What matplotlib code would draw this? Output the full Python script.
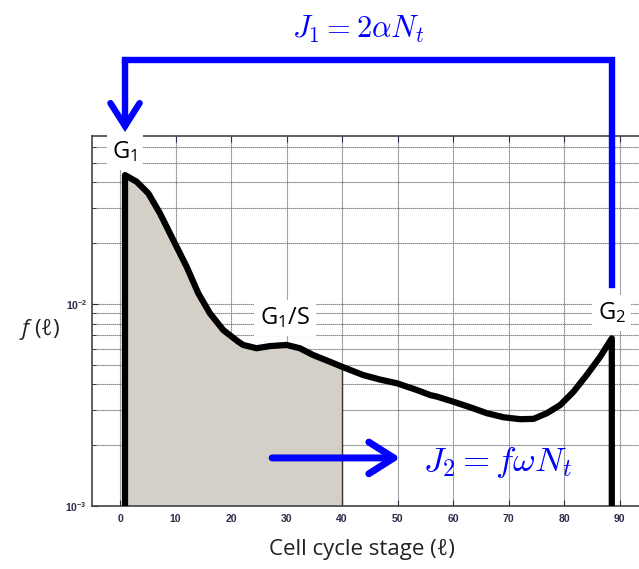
import matplotlib
matplotlib.use("Agg")
import matplotlib.pyplot as plt
import matplotlib.transforms as mtrans
import numpy as np
from matplotlib.ticker import LogLocator, NullFormatter, FixedLocator

plt.rcParams['mathtext.fontset'] = 'custom'
plt.rcParams['mathtext.rm'] = 'Open Sans'
plt.rcParams['mathtext.it'] = 'Open Sans:italic'
plt.rcParams['font.family'] = ['Open Sans', 'DejaVu Sans']

# ---- data ----
stage = [0.9, 3.0, 5.1, 7.2, 9.6, 12.0, 14.1, 16.2, 18.6, 21.3, 22.2, 24.6,
         27.0, 30.0, 32.4, 34.8, 37.8, 40.0, 43.8, 46.8, 49.9, 53.5, 55.9,
         57.1, 60.1, 63.1, 66.1, 69.1, 72.1, 74.5, 76.9, 79.3, 81.7, 84.1,
         86.5, 88.6]
density = [0.0435, 0.0403, 0.0353, 0.0281, 0.0207, 0.0153, 0.0113, 0.00899,
           0.00743, 0.00651, 0.00627, 0.00604, 0.00619, 0.00627, 0.00604,
           0.00559, 0.00518, 0.00489, 0.00445, 0.00423, 0.00405, 0.00375,
           0.00354, 0.00348, 0.00328, 0.00308, 0.00288, 0.00275, 0.00269,
           0.00270, 0.00288, 0.00316, 0.00368, 0.00446, 0.00548, 0.00676]
shade_end = 40.0
x_ticks = [0, 10, 20, 30, 40, 50, 60, 70, 80, 90]
y_min, y_max = 1e-3, 0.0679
x_min, x_max = -5.05, 93.5

fig = plt.figure(figsize=(6.39, 5.69), dpi=100)
ax = fig.add_axes([92/639, 63/569, 1 - 92/639, 370/569])
ax.set_yscale('log')
ax.set_xlim(x_min, x_max)
ax.set_ylim(y_min, y_max)

x = np.array(stage)
y = np.array(density)

# grid
ax.xaxis.set_major_locator(FixedLocator(x_ticks))
ax.yaxis.set_major_locator(LogLocator(base=10, numticks=10))
ax.yaxis.set_minor_locator(LogLocator(base=10, subs=np.arange(2, 10), numticks=20))
ax.yaxis.set_minor_formatter(NullFormatter())
gl = dict(color='#777777', linewidth=0.8, linestyle=(0, (1.2, 0.6)))
ax.grid(True, which='major', axis='x', **gl)
ax.grid(True, which='both', axis='y', **gl)
ax.set_axisbelow(True)

ax.tick_params(which='both', direction='in', top=True, right=False,
               labelsize=7.5, colors='#2b2b4b', length=4)
ax.tick_params(which='minor', length=3)
for lab in ax.get_xticklabels() + ax.get_yticklabels():
    lab.set_fontfamily('Liberation Sans')
    lab.set_fontweight('bold')
ax.tick_params(axis='x', pad=6)
for s in ['left', 'bottom', 'top']:
    ax.spines[s].set_color('#444444')
    ax.spines[s].set_linewidth(1.2)
ax.spines['right'].set_visible(False)

# shaded region
m = x <= shade_end
ax.fill_between(x[m], y_min, y[m], color='#d4d0c8', zorder=2, linewidth=0)
ax.plot([shade_end, shade_end], [y_min, y[m][-1]], color='#333333', lw=1, zorder=2)

# curve with vertical ends
xs = np.concatenate([[x[0]], x, [x[-1]]])
ys = np.concatenate([[y_min], y, [y_min]])
ax.plot(xs, ys, color='black', lw=4.5, zorder=4, solid_joinstyle='round',
        solid_capstyle='butt', clip_on=False)

# stage labels
box = dict(facecolor='white', edgecolor='none', pad=4)
ax.text(x[0], 0.0565, r'G$_1$', fontsize=17, ha='center', va='center', bbox=box, zorder=3)
ax.text(29.7, 0.00853, r'G$_1$/S', fontsize=17, ha='center', va='center', bbox=box, zorder=3)
ax.text(x[-1], 0.00903, r'G$_2$', fontsize=17, ha='center', va='center', bbox=box, zorder=3)

blue = '#0000ff'
# top feedback bracket J1
tr = mtrans.blended_transform_factory(ax.transData, mtrans.IdentityTransform())
ax.plot([x[-1], x[-1], x[0]], [284, 509, 509], color=blue, lw=4.6, transform=tr,
        clip_on=False, solid_capstyle='projecting', solid_joinstyle='miter', zorder=5)
ax.annotate('', xy=(x[0], 437), xycoords=('data', 'figure pixels'),
            xytext=(x[0], 509), textcoords=('data', 'figure pixels'),
            arrowprops=dict(arrowstyle='->,head_length=0.55,head_width=0.35',
                            mutation_scale=30, color=blue, lw=4.6,
                            shrinkA=0, shrinkB=0, joinstyle='miter'),
            annotation_clip=False, zorder=5)
fig.text(358/639, 1 - 29/569, r'$J_1 = 2\alpha N_t$', math_fontfamily='cm',
         fontsize=22, color=blue, ha='center', va='center')

# J2 arrow
ax.annotate('', xy=(50.5, 0.00173), xytext=(27.4, 0.00173),
            arrowprops=dict(arrowstyle='->,head_length=0.6,head_width=0.38',
                            mutation_scale=30, color=blue, lw=5,
                            shrinkA=0, shrinkB=0),
            zorder=5)
ax.text(54.6, 0.00165, r'$J_2 = f\omega N_t$', math_fontfamily='cm',
        fontsize=25, color=blue, ha='left', va='center', zorder=5)

# axis labels
fig.text(362/639, 1 - 550/569, 'Cell cycle stage (ℓ)', fontsize=16,
         ha='center', va='center', color='#222222')
fig.text(40/639, 1 - 330/569, r'$f$ (ℓ)', fontsize=16,
         ha='center', va='center', color='#222222')

fig.savefig('out.png', dpi=100)
